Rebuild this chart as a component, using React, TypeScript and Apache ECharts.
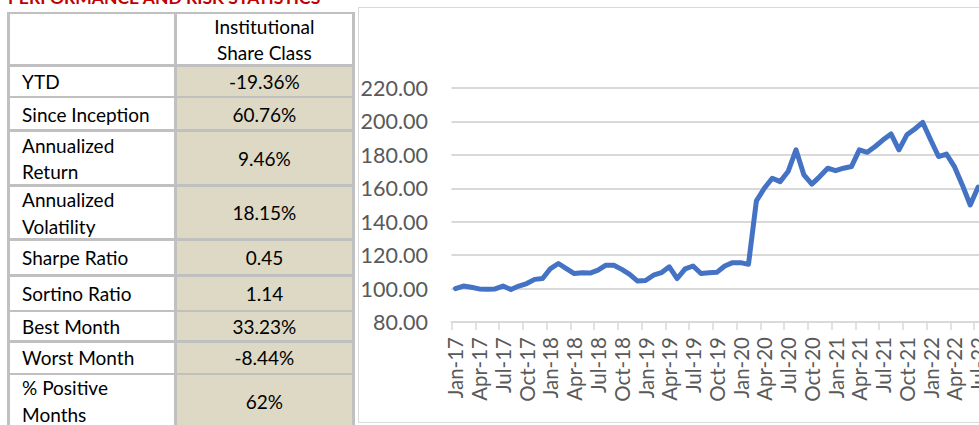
import React, { useEffect, useRef } from "react";
import * as echarts from "echarts";

const TITLE = "PERFORMANCE AND RISK STATISTICS";
const HEADER_LINES = ["Institutional", "Share Class"];
const ROW_LABELS: string[][] = [
  ["YTD"],
  ["Since Inception"],
  ["Annualized", "Return"],
  ["Annualized", "Volatility"],
  ["Sharpe Ratio"],
  ["Sortino Ratio"],
  ["Best Month"],
  ["Worst Month"],
  ["% Positive", "Months"],
];
const ROW_VALUES = ["-19.36%", "60.76%", "9.46%", "18.15%", "0.45", "1.14", "33.23%", "-8.44%", "62%"];

const MONTH_NAMES = ["Jan", "Feb", "Mar", "Apr", "May", "Jun", "Jul", "Aug", "Sep", "Oct", "Nov", "Dec"];
const YEARS = ["17", "18", "19", "20", "21", "22"];
const CATEGORIES: string[] = [];
YEARS.forEach((y) => MONTH_NAMES.forEach((m) => CATEGORIES.push(`${m}-${y}`)));

const NAV = [
  100.0, 101.5, 100.8, 99.8, 99.6, 99.8, 101.5, 99.4, 101.5, 103.0, 105.5, 106.0,
  112.0, 115.0, 112.0, 109.0, 109.5, 109.3, 111.0, 114.0, 114.0, 111.5, 108.5, 104.5,
  104.8, 108.0, 109.5, 113.0, 106.0, 111.8, 113.5, 109.0, 109.5, 109.7, 113.5, 115.5,
  115.5, 114.5, 152.5, 160.0, 166.0, 164.0, 170.0, 183.0, 168.0, 162.5, 167.0, 172.0,
  170.5, 172.0, 173.0, 183.0, 181.5, 185.0, 189.0, 192.5, 183.0, 192.0, 195.5, 199.4,
  189.0, 179.0, 180.5, 173.0, 162.0, 150.0, 160.76,
];
const X_LABELS = CATEGORIES.slice(0, NAV.length);

const Y_MIN = 80;
const Y_MAX = 220;
const Y_STEP = 20;

// layout
const BORDER_Y = [12, 64.3, 95.8, 129.5, 184.3, 238.5, 274.5, 310, 340.2, 372.5, 427];
const BW = 2.3;
const X_LEFT = 7.3;
const X_MID = 174.2;
const X_RIGHT = 352.3;
const GRAY = "#c0c0c0";
const TAN = "#ddd9c4";

function Chart() {
  const ref = useRef<HTMLDivElement>(null);
  useEffect(() => {
    if (!ref.current) return;
    const chart = echarts.init(ref.current, undefined, { renderer: "svg" });
    chart.setOption({
      animation: false,
      grid: { left: 451.5, top: 88, bottom: 103, right: 1000 - 982.1, containLabel: false },
      xAxis: {
        type: "category",
        data: X_LABELS,
        boundaryGap: true,
        axisLine: { show: true, lineStyle: { color: "#d9d9d9", width: 2 } },
        axisTick: { show: true, interval: 2, length: 8, lineStyle: { color: "#d9d9d9", width: 1.5 } },
        axisLabel: {
          interval: 2,
          rotate: 90,
          margin: 15,
          color: "#595959",
          fontFamily: "Lato",
          fontSize: 20.5,
        },
        splitLine: { show: false },
      },
      yAxis: {
        type: "value",
        min: Y_MIN,
        max: Y_MAX,
        interval: Y_STEP,
        axisLine: { show: false },
        axisTick: { show: false },
        axisLabel: {
          margin: 23.5,
          color: "#595959",
          fontFamily: "Lato",
          fontSize: 21.5,
          formatter: (v: number) => v.toFixed(2),
        },
        splitLine: { show: true, lineStyle: { color: "#d9d9d9", width: 2 } },
      },
      series: [
        {
          type: "line",
          data: NAV,
          symbol: "none",
          smooth: false,
          lineStyle: { color: "#4472c4", width: 5, cap: "round", join: "round" },
        },
      ],
    });
    return () => chart.dispose();
  }, []);
  return <div ref={ref} style={{ position: "absolute", left: 0, top: 0, width: 1000, height: 425 }} />;
}

function Cell(props: { x0: number; x1: number; y0: number; y1: number; bg: string; align: "left" | "center"; lines: string[] }) {
  const { x0, x1, y0, y1, bg, align, lines } = props;
  return (
    <div
      style={{
        position: "absolute",
        left: x0,
        top: y0,
        width: x1 - x0,
        height: y1 - y0,
        background: bg,
        display: "flex",
        flexDirection: "column",
        justifyContent: "center",
        alignItems: align === "left" ? "flex-start" : "center",
        paddingLeft: align === "left" ? 12.5 : 0,
        boxSizing: "border-box",
        fontSize: 19,
        lineHeight: "26.5px",
        color: "#000",
        whiteSpace: "nowrap",
        paddingTop: 2,
      }}
    >
      {lines.map((l, i) => (
        <div key={i}>{l}</div>
      ))}
    </div>
  );
}

export default function App() {
  const cells: React.ReactNode[] = [];
  cells.push(
    <Cell key="h0" x0={X_LEFT + BW} x1={X_MID} y0={BORDER_Y[0] + BW} y1={BORDER_Y[1]} bg="#fff" align="left" lines={[]} />
  );
  cells.push(
    <Cell key="h1" x0={X_MID + BW} x1={X_RIGHT} y0={BORDER_Y[0] + BW} y1={BORDER_Y[1]} bg="#fff" align="center" lines={HEADER_LINES} />
  );
  ROW_LABELS.forEach((lab, i) => {
    const y0 = BORDER_Y[i + 1] + BW;
    const y1 = BORDER_Y[i + 2];
    cells.push(<Cell key={"l" + i} x0={X_LEFT + BW} x1={X_MID} y0={y0} y1={y1} bg="#fff" align="left" lines={lab} />);
    cells.push(
      <Cell key={"v" + i} x0={X_MID + BW} x1={X_RIGHT} y0={y0} y1={y1} bg={TAN} align="center" lines={[ROW_VALUES[i]]} />
    );
  });

  return (
    <div
      style={{
        position: "fixed",
        left: 0,
        top: 0,
        width: 979,
        height: 425,
        overflow: "hidden",
        background: "#fff",
        fontFamily: "Lato, 'Noto Sans', sans-serif",
      }}
    >
      <div
        style={{
          position: "absolute",
          left: 357.5,
          top: 7,
          width: 700,
          height: 416,
          border: "1.3px solid #d9d9d9",
          boxSizing: "border-box",
        }}
      />
      <Chart />
      <div
        style={{
          position: "absolute",
          left: 8,
          top: -11,
          fontSize: 17.5,
          lineHeight: "17px",
          fontWeight: 700,
          color: "#c00000",
          whiteSpace: "nowrap",
        }}
      >
        {TITLE}
      </div>
      <div
        style={{
          position: "absolute",
          left: X_LEFT,
          top: BORDER_Y[0],
          width: X_RIGHT + BW - X_LEFT,
          height: 430 - BORDER_Y[0],
          background: GRAY,
        }}
      />
      {cells}
    </div>
  );
}
